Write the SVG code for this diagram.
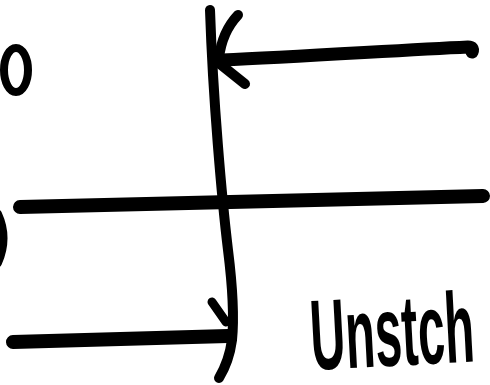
<svg xmlns="http://www.w3.org/2000/svg" width="490" height="385" viewBox="0 0 490 385">
<style>
.ink{fill:none;stroke:#000;stroke-linecap:round;stroke-linejoin:round}
.lbl{font-family:"Liberation Sans",Arial,sans-serif;font-weight:bold;fill:#000}
</style>
<rect width="490" height="385" fill="#fff"/>
<g id="node-o">
<ellipse class="ink" cx="16" cy="70" rx="12" ry="22" stroke-width="8"/>
</g>
<g id="node-left-arc">
<path class="ink" d="M -2 214 Q 9 238 -2 263" stroke-width="8"/>
</g>
<g id="connectors">
<path class="ink" d="M 222 60 C 300 57 400 50 468 47 Q 474 47 472 52" stroke-width="13"/>
<path class="ink" d="M 238 15 Q 222 32 219 58" stroke-width="10"/>
<path class="ink" d="M 220 64 L 245 84" stroke-width="10"/>
<path class="ink" d="M 210 10 C 213 100 222 200 228 250 C 233 290 234 320 232 340 C 230 355 225 368 219 378" stroke-width="10"/>
<path class="ink" d="M 20 207 L 483 196" stroke-width="14"/>
<path class="ink" d="M 13 342 L 228 336" stroke-width="14"/>
<path class="ink" d="M 212 302 L 226 322" stroke-width="9"/>
</g>
<g id="node-label">
<text class="lbl" x="312" y="370" font-size="100" textLength="164" lengthAdjust="spacingAndGlyphs" transform="rotate(-3 312 370)">Unstch</text>
</g>
</svg>
